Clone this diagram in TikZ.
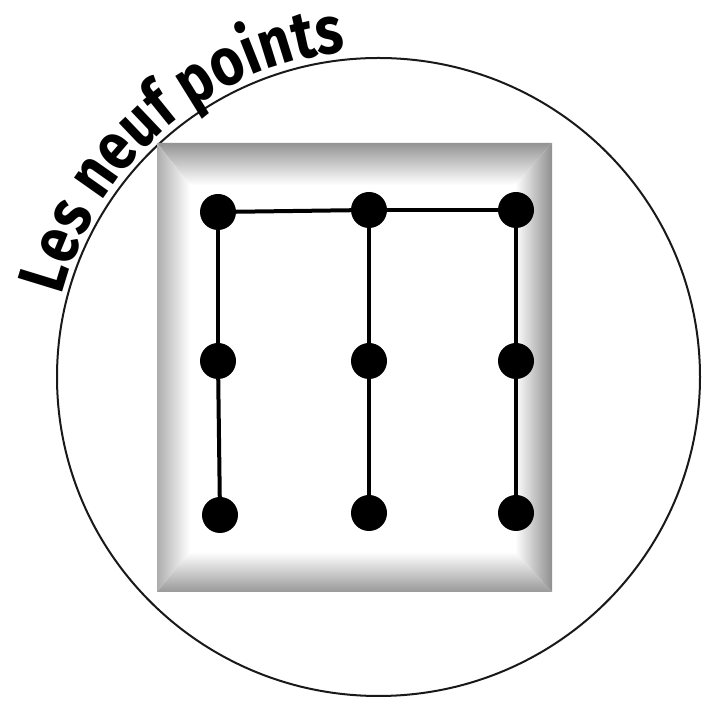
\documentclass[tikz,border=0pt]{standalone}
\usepackage{fontspec}
\newfontfamily\titlefont[FakeStretch=0.85]{Fira Sans Bold}
\usetikzlibrary{decorations.text}
\tikzset{
  dot/.style={circle,fill=black,draw=none,minimum size=36pt,inner sep=0pt},
  link/.style={line width=4pt,black},
  ring/.style={line width=2pt,black!90}
}
\begin{document}
\begin{tikzpicture}[x=1pt,y=1pt]
\useasboundingbox (0,0) rectangle (702,701);
% outer circle
\draw[ring] (378.5,324) ellipse [x radius=321.5, y radius=319];
% title along the arc
\path[decorate,decoration={text along path,
  text={|\titlefont\fontsize{67}{67}\selectfont|Les neuf points},
  text align=left}]
  (378.5,324) ++(165.5:327) arc[start angle=165.5, end angle=90, radius=327];
% bevelled frame
\fill[white] (157,109) rectangle (552,558);
\shade[top color=black!42, middle color=black!12, bottom color=white]
  (157,558) -- (552,558) -- (515,516) -- (190,516) -- cycle;
\shade[left color=black!32, middle color=black!8, right color=white]
  (157,558) -- (190,516) -- (190,149) -- (157,109) -- cycle;
\shade[right color=black!44, middle color=black!12, left color=white]
  (552,558) -- (515,516) -- (515,149) -- (552,109) -- cycle;
\shade[bottom color=black!40, middle color=black!10, top color=white]
  (157,109) -- (552,109) -- (515,149) -- (190,149) -- cycle;
% dots
\node[dot] (d11) at (218,489) {};
\node[dot] (d12) at (369,491) {};
\node[dot] (d13) at (516,491) {};
\node[dot] (d21) at (218,340) {};
\node[dot] (d22) at (369,340) {};
\node[dot] (d23) at (516,340) {};
\node[dot] (d31) at (220,186) {};
\node[dot] (d32) at (369,188) {};
\node[dot] (d33) at (516,188) {};
% connectors
\draw[link] (d11) -- (d12);
\draw[link] (d12) -- (d13);
\draw[link] (d11) -- (d21);
\draw[link] (d21) -- (d31);
\draw[link] (d12) -- (d22);
\draw[link] (d22) -- (d32);
\draw[link] (d13) -- (d23);
\draw[link] (d23) -- (d33);
\end{tikzpicture}
\end{document}
